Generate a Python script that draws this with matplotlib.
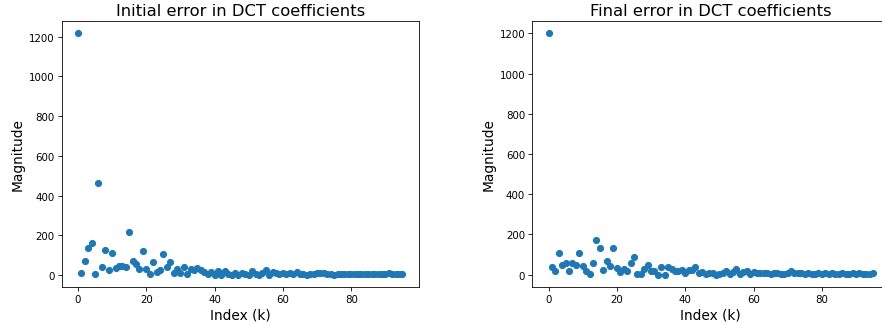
import matplotlib
matplotlib.use("Agg")
import matplotlib.pyplot as plt
import numpy as np

initial_error = [1220, 8, 72, 138, 160, 3, 462, 40, 128, 25,
                 109, 37, 45, 47, 40, 218, 72, 54, 30, 119,
                 32, 3, 67, 17, 27, 104, 39, 64, 8, 32,
                 8, 42, 7, 32, 27, 34, 25, 17, 7, 17,
                 2, 20, 2, 18, 5, 2, 8, 2, 12, 5,
                 2, 18, 7, 2, 8, 25, 2, 15, 12, 7,
                 10, 6, 8, 4, 15, 6, 4, 2, 3, 6,
                 9, 12, 8, 4, 3, 2, 4, 6, 5, 3,
                 6, 5, 4, 3, 5, 6, 4, 3, 5, 6,
                 7, 10, 6, 4, 5, 3]
final_error = [1203, 36, 18, 106, 48, 56, 18, 60, 46, 106,
               45, 20, 3, 56, 172, 134, 22, 68, 45, 131,
               32, 12, 30, 17, 56, 88, 3, 3, 28, 50,
               17, 18, 0, 36, 0, 40, 28, 18, 17, 23,
               7, 25, 25, 36, 10, 12, 2, 8, 10, 0,
               2, 10, 18, 2, 13, 27, 5, 12, 17, 3,
               12, 8, 10, 7, 9, 5, 7, 6, 4, 5,
               8, 20, 8, 6, 7, 5, 6, 4, 3, 6,
               5, 7, 4, 6, 5, 4, 6, 5, 3, 6,
               4, 7, 5, 3, 4, 8]
index = np.arange(len(initial_error))

titles = ["Initial error in DCT coefficients", "Final error in DCT coefficients"]
xlabel = "Index (k)"
ylabel = "Magnitude"

dpi = 73.5
fig = plt.figure(figsize=(882 / dpi, 326 / dpi), dpi=dpi)
W, H = 882, 326
bottom = (H - 287.7) / H
height = (287.7 - 21.7) / H
width = 357 / W
ax1 = fig.add_axes([61.7 / W, bottom, width, height])
ax2 = fig.add_axes([532.3 / W, bottom, width, height])

for ax, data, title in zip([ax1, ax2], [initial_error, final_error], titles):
    ax.scatter(index, data, color="#1f77b4")
    ax.set_title(title, fontsize=16)
    ax.set_xlabel(xlabel, fontsize=13.5)
    ax.set_ylabel(ylabel, fontsize=13.5)

fig.savefig("out.png", dpi=dpi)
